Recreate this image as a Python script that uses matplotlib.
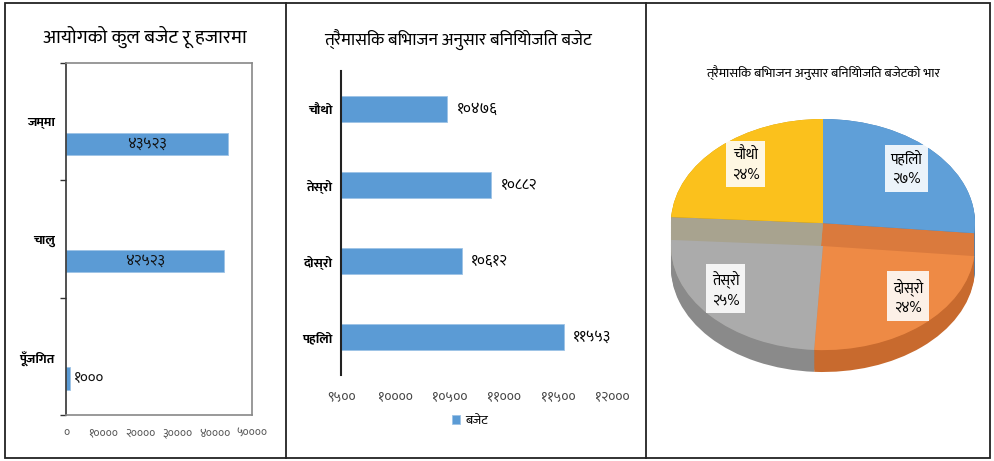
import math
import matplotlib
matplotlib.use("Agg")
import matplotlib.pyplot as plt
from matplotlib import font_manager
from matplotlib.ft2font import FT2Font
from matplotlib.patches import Rectangle
from matplotlib.ticker import FuncFormatter, FixedLocator

# look for installed fonts that carry Devanagari glyphs
deva_fonts = []
for f in font_manager.fontManager.ttflist:
    try:
        if FT2Font(f.fname).get_char_index(0x0915):
            deva_fonts.append(f.name)
    except Exception:
        pass
deva_fonts = sorted(set(deva_fonts))
deva_family = None
for pref in ['Mukta', 'Noto Sans Devanagari', 'Hind', 'Lohit Devanagari', 'FreeSans']:
    if pref in deva_fonts:
        deva_family = pref
        break
if deva_family is None and deva_fonts:
    deva_family = deva_fonts[0]
families = ([deva_family] if deva_family else []) + ['DejaVu Sans']
plt.rcParams['font.family'] = families

# data
total_cats = ['पूँजिगत', 'चालु', 'जम्मा']
total_vals = [1000, 42523, 43523]

quarter_cats = ['पहिलो', 'दोस्रो', 'तेस्रो', 'चौथो']
quarter_vals = [11553, 10612, 10882, 10476]

title_left = 'आयोगको कुल बजेट रू हजारमा'
title_mid = 'त्रैमासिक बिभाजन अनुसार बिनियोजित बजेट'
title_pie = 'त्रैमासिक बिभाजन अनुसार बिनियोजित बजेटको भार'
legend_label = 'बजेट'

blue = '#5B9BD5'
pie_colors = ['#5F9FD8', '#EE8A45', '#ABABAB', '#FBC11C']
pie_strip = ['#4F87BA', '#DA7A3D', '#A8A38F', '#D9A514']
pie_side = ['#4A7FB0', '#C86A2E', '#8A8A8A', '#C99A10']

DEV = str.maketrans('0123456789', '०१२३४५६७८९')


def dev(n):
    return str(int(round(n))).translate(DEV)


W, H = 994, 461
fig = plt.figure(figsize=(W / 100, H / 100), dpi=100)


def box(x0, y0, x1, y1):
    # pixel box (top-left origin) -> figure rect
    return [x0 / W, 1 - y1 / H, (x1 - x0) / W, (y1 - y0) / H]


# outer frame and panel dividers
fig.add_artist(Rectangle((5 / W, 1 - 458 / H), 985 / W, 455 / H, transform=fig.transFigure,
                         fill=False, edgecolor='#222222', lw=1.3))
for xp in (286, 646):
    fig.add_artist(plt.Line2D([xp / W, xp / W], [1 - 458 / H, 1 - 3 / H],
                              transform=fig.transFigure, color='#222222', lw=1.3))

# ---- left panel: total budget ----
ax1 = fig.add_axes(box(66, 63, 252, 415))
pos = range(len(total_cats))
bars = ax1.barh([p - 0.19 for p in pos], total_vals, height=0.19, color=blue,
                edgecolor='#9DC3E6', lw=0.6)
for b, v in zip(bars, total_vals):
    if v > 10000:
        ax1.text(b.get_x() + b.get_width() / 2, b.get_y() + b.get_height() / 2, dev(v),
                 ha='center', va='center', fontsize=11, color='#111111')
    else:
        ax1.text(b.get_width() + 1200, b.get_y() + b.get_height() / 2, dev(v),
                 ha='left', va='center', fontsize=11, color='#111111')
ax1.set_xlim(0, 50000)
ax1.set_ylim(-0.5, len(total_cats) - 0.5)
ax1.set_yticks(list(pos))
ax1.set_yticklabels(total_cats, fontsize=9.5, fontweight='bold')
ax1.yaxis.set_minor_locator(FixedLocator([-0.5, 0.5, 1.5, 2.5]))
ax1.tick_params(axis='y', which='major', length=0, pad=8)
ax1.tick_params(axis='y', which='minor', length=4, width=1, color='#333333')
ax1.set_xticks(range(0, 50001, 10000))
ax1.xaxis.set_major_formatter(FuncFormatter(lambda v, p: dev(v)))
ax1.tick_params(axis='x', length=0, labelsize=8.5, labelcolor='#555555', pad=9)
for s in ax1.spines.values():
    s.set_color('#888888')
    s.set_linewidth(1.2)
ax1.spines['left'].set_color('#333333')
fig.text(145 / W, 1 - 37 / H, title_left, ha='center', va='center', fontsize=14)

# ---- middle panel: quarterly ----
ax2 = fig.add_axes(box(341, 71, 612, 375))
qpos = range(len(quarter_cats))
qbars = ax2.barh(list(qpos), quarter_vals, height=0.34, color=blue, edgecolor='#9DC3E6',
                 lw=0.6, label=legend_label)
ax2.bar_label(qbars, labels=[dev(v) for v in quarter_vals], padding=7, fontsize=11)
ax2.set_xlim(9500, 12000)
ax2.set_ylim(-0.5, len(quarter_cats) - 0.5)
ax2.set_yticks(list(qpos))
ax2.set_yticklabels(quarter_cats, fontsize=9.5, fontweight='bold')
ax2.set_xticks(range(9500, 12001, 500))
ax2.xaxis.set_major_formatter(FuncFormatter(lambda v, p: dev(v)))
ax2.tick_params(axis='x', length=0, labelsize=10, labelcolor='#444444', pad=11)
ax2.tick_params(axis='y', length=0, pad=6)
for k in ('top', 'right', 'bottom'):
    ax2.spines[k].set_visible(False)
ax2.spines['left'].set_color('#222222')
ax2.spines['left'].set_linewidth(1.5)
ax2.legend(loc='center', bbox_to_anchor=(470 / W, 1 - 421 / H), bbox_transform=fig.transFigure,
           frameon=False, fontsize=9.5, handlelength=0.6, handleheight=0.6, handletextpad=0.4)
fig.text(458 / W, 1 - 40 / H, title_mid, ha='center', va='center', fontsize=12.6)

# ---- right panel: pseudo-3D pie ----
ax3 = fig.add_axes(box(671, 119, 975, 372))
depth = 0.43
drop = 0.22
lowered = [False, True, True, False]
nlayers = 30
for i in range(nlayers + 1):
    yc = -depth + depth * i / nlayers
    cols = []
    for k in range(4):
        if lowered[k] and yc > -drop:
            cols.append(pie_strip[k])
        else:
            cols.append(pie_side[k])
    ax3.pie(quarter_vals, colors=cols, startangle=90, counterclock=False,
            center=(0, yc), radius=1, frame=False)
total = sum(quarter_vals)
pct_labels = [f'{c}\n{dev(100 * v / total)}%' for c, v in zip(quarter_cats, quarter_vals)]
# lowered slices (front)
ax3.pie(quarter_vals, colors=[c if lo else 'none' for c, lo in zip(pie_colors, lowered)],
        startangle=90, counterclock=False, center=(0, -drop), radius=1, frame=False,
        wedgeprops={'linewidth': 0})
# upper slices (back)
ax3.pie(quarter_vals, colors=[c if not lo else 'none' for c, lo in zip(pie_colors, lowered)],
        startangle=90, counterclock=False, center=(0, 0), radius=1, frame=False,
        wedgeprops={'linewidth': 0})
# labels
ang = 90
for k, v in enumerate(quarter_vals):
    span = 360 * v / total
    mid = ang - span / 2
    ang -= span
    r = 0.78
    if lowered[k]:
        lx, ly = r * math.cos(math.radians(mid)) * 1.1, -drop / 2 + r * math.sin(math.radians(mid))
    else:
        lx, ly = r * math.cos(math.radians(mid)) * 0.95, r * math.sin(math.radians(mid))
    ax3.text(lx, ly, pct_labels[k], ha='center', va='center', fontsize=10.5, linespacing=1.6,
             bbox=dict(boxstyle='square,pad=0.4', facecolor='white', edgecolor='none', alpha=0.88),
             zorder=10)
ax3.set_aspect('auto')
ax3.set_xlim(-1, 1)
ax3.set_ylim(-1 - depth, 1)
ax3.axis('off')
fig.text(823 / W, 1 - 73 / H, title_pie, ha='center', va='center', fontsize=9.5)

fig.savefig('out.png', dpi=100)
